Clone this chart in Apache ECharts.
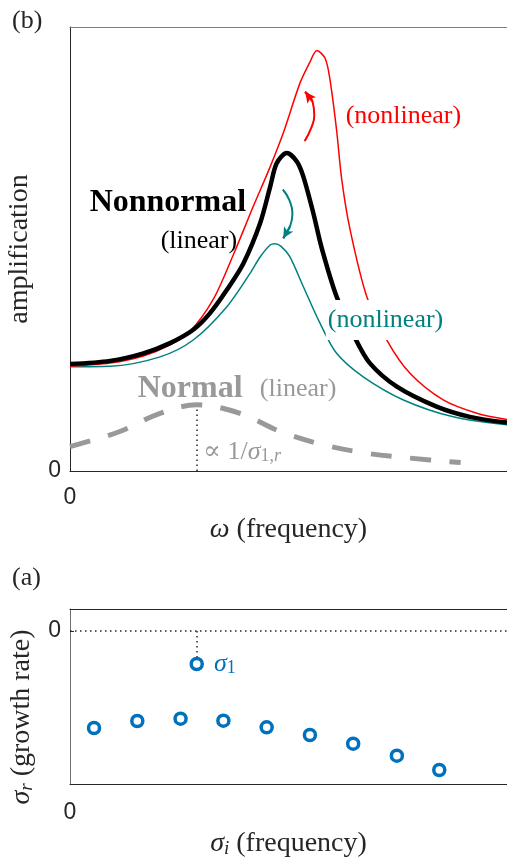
<!DOCTYPE html>
<html><head><meta charset="utf-8">
<script src="https://cdn.jsdelivr.net/npm/echarts@6/dist/echarts.min.js"></script>
<style>html,body{margin:0;padding:0;background:#fff}#c{width:507px;height:861px}</style>
</head><body><div id="c"></div>
<script>
// ---------- DATA (normalized units) ----------
// Panel (b): amplification vs omega
const nonnormalW = [0, 9.2, 16.8, 22.9, 28.2, 32.0, 35.9, 39.7, 43.5, 45.8, 47.3, 49.6, 51.9, 53.4, 55.7, 57.6, 61.0, 65.2, 68.6, 74.8, 83.9, 91.5, 100];
const nonnormalA = [24.1, 24.8, 26.5, 28.8, 31.8, 35.5, 40.8, 46.8, 55.8, 64.0, 69.3, 71.6, 69.7, 66.3, 58.0, 50.2, 39.3, 30.0, 24.3, 19.0, 14.5, 12.2, 10.9];

const nonlinUpW = [0, 9.2, 16.8, 22.9, 27.5, 32.8, 37.5, 41.9, 45.8, 48.8, 52.6, 54.9, 56.5, 58.4, 59.5, 61.0, 62.2, 64.1, 67.9, 72.5, 77.8, 85.4, 93.1, 100];
const nonlinUpA = [23.6, 24.3, 25.9, 28.4, 31.5, 38.7, 49.0, 59.5, 68.5, 76.1, 87.3, 92.1, 94.7, 92.9, 88.1, 76.8, 65.5, 54.3, 39.3, 29.5, 22.0, 16.0, 13.0, 11.6];

const nonlinDownW = [0, 9.2, 20.6, 28.2, 35.9, 41.2, 43.5, 45.8, 46.9, 48.3, 50.3, 53.4, 57.2, 61.0, 67.1, 76.3, 87.7, 100];
const nonlinDownA = [23.5, 23.6, 25.7, 29.5, 37.0, 44.5, 48.2, 50.9, 51.2, 50.6, 48.3, 41.5, 33.3, 26.5, 21.2, 16.0, 12.2, 10.4];

const normalW = [0, 11.4, 20.6, 29.0, 38.9, 48.1, 58.0, 67.9, 77.8, 89.4];
const normalA = [5.5, 8.9, 13.0, 14.9, 13.0, 8.9, 5.9, 4.0, 2.9, 1.9];

const normalPeak = [29.0, 14.6];           // top of the dotted marker line
// curved annotation arrows (paths in data units)
const arrowUpPath = [[53.7, 74.3], [55.3, 77.5], [55.9, 80.1], [55.5, 83.2], [53.8, 85.4]];
const arrowDownPath = [[48.7, 63.4], [50.2, 61.0], [50.9, 58.0], [50.3, 55.0], [48.8, 52.4]];

// Panel (a): eigenvalues
const eigI = [5.5, 15.4, 25.3, 35.1, 45.0, 54.9, 64.8, 74.8, 84.5];
const eigR = [-9.7, -9.0, -8.77, -8.97, -9.63, -10.4, -11.27, -12.47, -13.9];
const sigma1 = [29.0, -3.3];

const tickTop = [0];
const tickBottom = [0];

// ---------- STYLE ----------
const SERIF = "'Liberation Serif', 'DejaVu Serif', serif";
const SANS = "'Liberation Sans', Arial, sans-serif";
const DARK = '#262626';
const GRAY = '#999999';
const TEAL = '#008080';
const RED = '#ff0000';
const BLUE = '#0072BD';

const zip = (a, b) => a.map((v, i) => [v, b[i]]);

function richFor(color, size) {
  return {
    i: {fontFamily: SERIF, fontStyle: 'italic', fontSize: size, color: color},
    u: {fontFamily: SERIF, fontSize: size, color: color},
    s: {fontFamily: SERIF, fontStyle: 'italic', fontSize: Math.round(size * 0.68), color: color, verticalAlign: 'bottom'},
    su: {fontFamily: SERIF, fontSize: Math.round(size * 0.68), color: color, verticalAlign: 'bottom'},
    b: {fontFamily: SERIF, fontWeight: 'bold', fontSize: size, color: color}
  };
}

function tickLabel(vals) {
  return {customValues: vals, color: DARK, fontFamily: SANS, fontSize: 23,
          formatter: v => (Math.abs(v) < 1e-9 ? '0' : '')};
}

function textPoint(x, y, text, opts) {
  return {
    type: 'scatter', xAxisIndex: 0, yAxisIndex: 0, symbolSize: 1, silent: true, z: 10,
    itemStyle: {color: 'rgba(0,0,0,0)', opacity: 1},
    data: [[x, y]],
    label: Object.assign({show: true, position: 'inside', formatter: text}, opts)
  };
}

function arrowSeries(path, color) {
  const n = path.length;
  return {
    type: 'line', xAxisIndex: 0, yAxisIndex: 0, data: path, smooth: 0.5, symbol: 'none',
    silent: true, z: 6, lineStyle: {color: color, width: 2},
    markLine: {silent: true, symbol: ['none', 'arrow'], symbolSize: [8, 11], label: {show: false},
      lineStyle: {color: color, width: 2, type: 'solid'},
      data: [[{coord: path[n - 2]}, {coord: path[n - 1]}]]}
  };
}

const chart = echarts.init(document.getElementById('c'), null, {renderer: 'canvas'});

const option = {
  animation: false,
  backgroundColor: '#fff',
  graphic: [
    {type: 'text', left: 12, top: 8, style: {text: '(b)', font: '26px ' + SERIF, fill: DARK}},
    {type: 'text', left: 12, top: 565, style: {text: '(a)', font: '26px ' + SERIF, fill: DARK}}
  ],
  grid: [
    {left: 70, top: 27, width: 437, height: 444, outerBoundsMode: 'none', containLabel: false},
    {left: 70, top: 609, width: 437, height: 175, outerBoundsMode: 'none', containLabel: false}
  ],
  xAxis: [
    {gridIndex: 0, type: 'value', min: 0, max: 100, position: 'bottom',
     axisLine: {show: true, onZero: false, lineStyle: {color: DARK, width: 1}},
     axisTick: {show: false}, splitLine: {show: false},
     axisLabel: Object.assign(tickLabel(tickTop), {margin: 15}),
     name: '{i|ω} {u|(frequency)}', nameLocation: 'middle', nameGap: 45,
     nameTextStyle: {fontFamily: SERIF, fontSize: 28, color: DARK, rich: richFor(DARK, 28)}},
    {gridIndex: 0, type: 'value', min: 0, max: 100, position: 'top',
     axisLine: {show: true, onZero: false, lineStyle: {color: '#7f7f7f', width: 1}},
     axisTick: {show: false}, axisLabel: {show: false}, splitLine: {show: false}},
    {gridIndex: 1, type: 'value', min: 0, max: 100, position: 'bottom',
     axisLine: {show: true, onZero: false, lineStyle: {color: DARK, width: 1}},
     axisTick: {show: false}, splitLine: {show: false},
     axisLabel: Object.assign(tickLabel(tickBottom), {margin: 17}),
     name: '{i|σ}{s|i} {u|(frequency)}', nameLocation: 'middle', nameGap: 46,
     nameTextStyle: {fontFamily: SERIF, fontSize: 28, color: DARK, rich: richFor(DARK, 28)}},
    {gridIndex: 1, type: 'value', min: 0, max: 100, position: 'top',
     axisLine: {show: true, onZero: false, lineStyle: {color: DARK, width: 1}},
     axisTick: {show: false}, axisLabel: {show: false}, splitLine: {show: false}}
  ],
  yAxis: [
    {gridIndex: 0, type: 'value', min: 0, max: 100,
     axisLine: {show: true, onZero: false, lineStyle: {color: DARK, width: 1}},
     axisTick: {show: false}, splitLine: {show: false},
     axisLabel: Object.assign(tickLabel(tickTop), {margin: 9}),
     name: 'amplification', nameLocation: 'middle', nameGap: 36, nameRotate: 90,
     nameTextStyle: {fontFamily: SERIF, fontSize: 28, color: DARK}},
    {gridIndex: 1, type: 'value', min: -15.3, max: 2.2,
     axisLine: {show: true, onZero: false, lineStyle: {color: '#6e6e6e', width: 1}},
     axisTick: {show: true, inside: true, length: 4, customValues: tickBottom, lineStyle: {color: DARK}},
     splitLine: {show: false},
     axisLabel: Object.assign(tickLabel(tickBottom), {margin: 9}),
     name: '{i|σ}{s|r} {u|(growth rate)}', nameLocation: 'middle', nameGap: 34, nameRotate: 90,
     nameTextStyle: {fontFamily: SERIF, fontSize: 28, color: DARK, rich: richFor(DARK, 28), padding: [0, 41, 0, 0]}}
  ],
  series: [
    {type: 'line', name: 'Normal', xAxisIndex: 0, yAxisIndex: 0, data: zip(normalW, normalA),
     smooth: 0.35, symbol: 'none', silent: true, z: 2,
     lineStyle: {color: GRAY, width: 5, type: [21, 18.5], cap: 'butt'},
     markLine: {silent: true, symbol: ['none', 'none'], label: {show: false},
       lineStyle: {color: DARK, width: 1.5, type: [1.5, 3.5]},
       data: [[{coord: [normalPeak[0], 0]}, {coord: normalPeak}]]}},
    {type: 'line', name: 'nonlinear down', xAxisIndex: 0, yAxisIndex: 0, data: zip(nonlinDownW, nonlinDownA),
     smooth: 0.3, symbol: 'none', silent: true, z: 3,
     lineStyle: {color: TEAL, width: 1.5}},
    {type: 'line', name: 'nonlinear up', xAxisIndex: 0, yAxisIndex: 0, data: zip(nonlinUpW, nonlinUpA),
     smooth: 0.3, symbol: 'none', silent: true, z: 4,
     lineStyle: {color: RED, width: 1.5}},
    {type: 'line', name: 'Nonnormal', xAxisIndex: 0, yAxisIndex: 0, data: zip(nonnormalW, nonnormalA),
     smooth: 0.3, symbol: 'none', silent: true, z: 5,
     lineStyle: {color: '#000', width: 4.5}},
    arrowSeries(arrowUpPath, RED),
    arrowSeries(arrowDownPath, TEAL),

    textPoint(22.4, 60.4, 'Nonnormal', {fontFamily: SERIF, fontWeight: 'bold', fontSize: 32, color: '#000'}),
    textPoint(29.5, 51.8, '(linear)', {fontFamily: SERIF, fontSize: 26, color: '#000'}),
    textPoint(76.3, 80.0, '(nonlinear)', {fontFamily: SERIF, fontSize: 26, color: RED}),
    textPoint(72.2, 34.0, '(nonlinear)', {fontFamily: SERIF, fontSize: 26, color: TEAL,
      backgroundColor: '#fff', padding: [7, 2, 7, 2]}),
    textPoint(27.5, 18.5, 'Normal', {fontFamily: SERIF, fontWeight: 'bold', fontSize: 32, color: GRAY}),
    textPoint(52.2, 18.5, '(linear)', {fontFamily: SERIF, fontSize: 26, color: GRAY}),
    textPoint(30.4, 4.3, '{u|∝ 1/}{i|σ}{su|1,}{s|r}', {position: 'right', distance: 0,
      fontFamily: SERIF, fontSize: 26, color: GRAY, rich: richFor(GRAY, 26)}),

    {type: 'scatter', name: 'eigenvalues', xAxisIndex: 2, yAxisIndex: 1, data: zip(eigI, eigR),
     symbol: 'circle', symbolSize: 11, silent: true, z: 5,
     itemStyle: {color: '#fff', borderColor: BLUE, borderWidth: 3.5, opacity: 1},
     markLine: {silent: true, symbol: ['none', 'none'], label: {show: false},
       lineStyle: {color: DARK, width: 1.5, type: [1.5, 3.5]},
       data: [[{coord: [0, 0]}, {coord: [100, 0]}],
              [{coord: [sigma1[0], 0]}, {coord: [sigma1[0], sigma1[1] + 0.7]}]]}},
    {type: 'scatter', name: 'sigma1', xAxisIndex: 2, yAxisIndex: 1, data: [sigma1],
     symbol: 'circle', symbolSize: 11, silent: true, z: 6,
     itemStyle: {color: '#fff', borderColor: BLUE, borderWidth: 3.5, opacity: 1},
     label: {show: true, position: 'right', distance: 10, formatter: '{i|σ}{su|1}',
       rich: richFor(BLUE, 26)}}
  ]
};
chart.setOption(option);
</script>
</body></html>
